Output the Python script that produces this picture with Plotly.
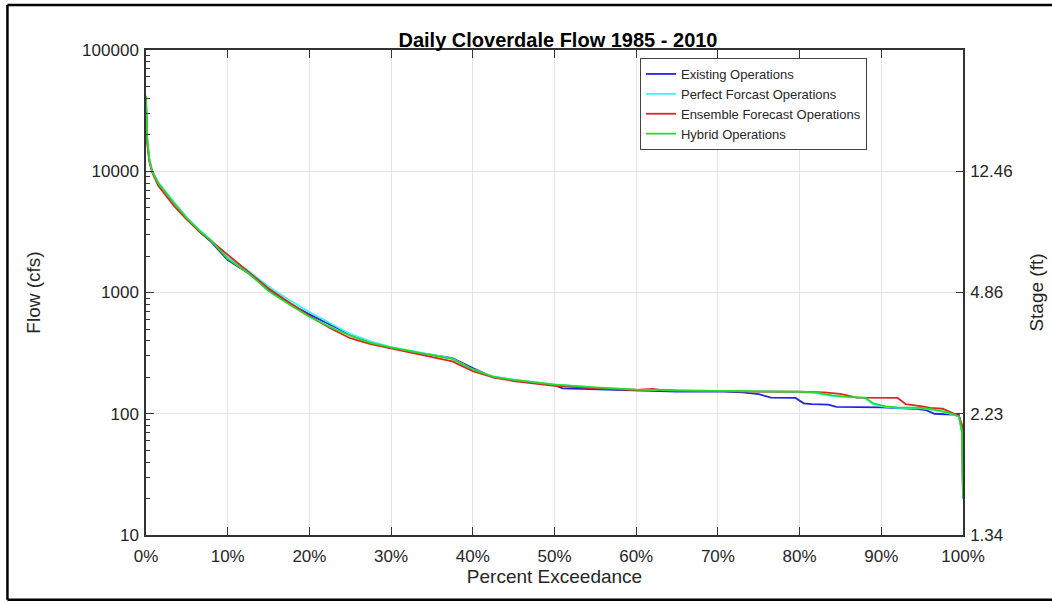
import plotly.graph_objects as go

# ---- data (percent exceedance, flow cfs) ----
existing_x = [0, 0.15, 0.4, 0.75, 1.5, 2.5, 3.5, 5, 6.5, 8,
              10, 12.5, 15, 17.5, 20, 22.5, 25, 27.5, 30, 32.5,
              35, 37.5, 40, 42.5, 45, 47.5, 50, 51, 54, 55,
              58, 60, 63, 65, 70, 73, 75, 76.5, 79.5, 80.5,
              81.5, 83.5, 84.5, 90, 94, 95.5, 96.5, 99.5, 99.9, 100]
existing_y = [38000, 18000, 12500, 10000, 8000, 6500, 5400, 4100, 3200, 2600,
              1850, 1450, 1060, 820, 660, 545, 450, 385, 350, 325,
              305, 288, 238, 200, 190, 182, 172, 162, 160, 158,
              157, 156, 155, 152, 153, 150, 145, 136, 135, 122,
              120, 119, 114, 113, 110, 107, 100, 98, 70, 20]

perfect_x = [0, 0.15, 0.4, 0.75, 1.5, 2.5, 3.5, 5, 6.5, 8,
             10, 12.5, 15, 17.5, 20, 22.5, 25, 27.5, 30, 32.5,
             35, 37.5, 40, 42.5, 45, 47.5, 50, 55, 60, 65,
             70, 75, 78, 80, 82, 84, 86, 88, 89, 90.5,
             92, 95, 96.5, 98, 99.5, 99.9, 100]
perfect_y = [36000, 18500, 12500, 10000, 8100, 6600, 5500, 4150, 3300, 2700,
             1950, 1520, 1120, 870, 690, 560, 455, 395, 355, 330,
             305, 285, 232, 203, 191, 183, 175, 164, 158, 156,
             155, 153, 152, 151, 148, 140, 137, 135, 120, 114,
             112, 111, 107, 102, 95, 70, 20]

ensemble_x = [0, 0.15, 0.4, 0.75, 1.5, 2.5, 3.5, 5, 6.5, 8,
              10, 12.5, 15, 17.5, 20, 22.5, 25, 27.5, 30, 32.5,
              35, 37.5, 40, 42.5, 45, 47.5, 50, 55, 60, 62,
              63, 65, 70, 75, 80, 83, 85, 87, 92, 93,
              95, 96, 97.5, 98.5, 99.5, 99.9, 100]
ensemble_y = [35000, 17000, 12000, 9800, 7600, 6200, 5100, 4000, 3200, 2650,
              2050, 1500, 1080, 830, 640, 510, 420, 375, 345, 320,
              295, 270, 225, 200, 186, 178, 170, 162, 157, 160,
              157, 155, 153, 152, 152, 150, 146, 136, 135, 120,
              115, 112, 110, 103, 96, 80, 20]

hybrid_x = [0, 0.15, 0.4, 0.75, 1.5, 2.5, 3.5, 5, 6.5, 8,
            10, 12.5, 15, 17.5, 20, 22.5, 25, 27.5, 30, 32.5,
            35, 37.5, 40, 42.5, 45, 47.5, 50, 55, 60, 65,
            70, 75, 78, 80, 82, 84, 86, 88, 89, 90.5,
            92, 95, 96.5, 98, 99.5, 99.9, 100]
hybrid_y = [42000, 19000, 12500, 10000, 8000, 6500, 5400, 4100, 3250, 2650,
            1900, 1450, 1030, 800, 630, 520, 440, 385, 352, 327,
            303, 283, 232, 202, 190, 182, 174, 165, 158, 156,
            155, 153, 153, 152, 150, 142, 138, 136, 122, 115,
            113, 112, 108, 103, 95, 70, 20]

x_ticks = [0, 10, 20, 30, 40, 50, 60, 70, 80, 90, 100]
x_tick_labels = ["0%", "10%", "20%", "30%", "40%", "50%", "60%", "70%", "80%", "90%", "100%"]
flow_ticks = [10, 100, 1000, 10000, 100000]
flow_tick_labels = ["10", "100", "1000", "10000", "100000"]
stage_ticks = [10, 100, 1000, 10000]
stage_tick_labels = ["1.34", "2.23", "4.86", "12.46"]

FONT = "Liberation Sans, Arial, sans-serif"
AX = "#333333"

fig = go.Figure()
series = [
    ("Existing Operations", existing_x, existing_y, "#2424e0"),
    ("Perfect Forcast Operations", perfect_x, perfect_y, "#3cf5f5"),
    ("Ensemble Forecast Operations", ensemble_x, ensemble_y, "#e02424"),
    ("Hybrid Operations", hybrid_x, hybrid_y, "#24e024"),
]
for name, xs, ys, col in series:
    fig.add_trace(go.Scatter(x=xs, y=ys, mode="lines", name=name,
                             line=dict(color=col, width=1.8)))

# carrier trace so the right-hand stage axis is drawn
fig.add_trace(go.Scatter(x=existing_x, y=existing_y, yaxis="y2", mode="lines",
                         line=dict(width=0, color="rgba(0,0,0,0)"),
                         showlegend=False, hoverinfo="skip"))

fig.update_layout(
    width=1052, height=602,
    margin=dict(l=146, r=89, t=50, b=67, autoexpand=False),
    paper_bgcolor="white", plot_bgcolor="white",
    font=dict(family=FONT, color="#262626", size=17),
    title=dict(text="<b>Daily Cloverdale Flow 1985 - 2010</b>", xref="container",
               x=0.5304, xanchor="center", y=0.9336, yanchor="middle",
               font=dict(size=20, color="black")),
    showlegend=True,
    legend=dict(x=0.6046, y=0.9835, xanchor="left", yanchor="top",
                bgcolor="white", bordercolor="#444444", borderwidth=1,
                font=dict(size=13, color="#262626"), itemwidth=30,
                tracegroupgap=0),
    xaxis=dict(range=[0, 100], tickvals=x_ticks, ticktext=x_tick_labels,
               showgrid=True, gridcolor="#e3e3e3", gridwidth=1, automargin=False,
               showline=True, linecolor=AX, linewidth=1.5, mirror="ticks",
               ticks="inside", ticklen=8, tickcolor=AX, ticklabelstandoff=5,
               zeroline=False, tickfont=dict(size=17),
               title=dict(text="Percent Exceedance", font=dict(size=19), standoff=4)),
    yaxis=dict(type="log", range=[1, 5], tickvals=flow_ticks, ticktext=flow_tick_labels,
               showgrid=True, gridcolor="#e3e3e3", gridwidth=1, automargin=False,
               showline=True, linecolor=AX, linewidth=1.5,
               ticks="inside", ticklen=8, tickcolor=AX, ticklabelstandoff=2,
               minor=dict(ticks="inside", ticklen=4, tickcolor=AX, showgrid=False,
                          dtick="D1"),
               zeroline=False, tickfont=dict(size=17),
               title=dict(text="Flow (cfs)", font=dict(size=19), standoff=36)),
    yaxis2=dict(type="log", range=[1, 5], overlaying="y", side="right",
                tickvals=stage_ticks, ticktext=stage_tick_labels, automargin=False,
                showgrid=False, showline=True, linecolor=AX, linewidth=1.5,
                ticks="inside", ticklen=7, tickcolor=AX, zeroline=False,
                ticklabelstandoff=2, tickfont=dict(size=17),
                title=dict(text="Stage (ft)", font=dict(size=19), standoff=18)),
)

# outer frame (top, left, bottom) around the figure
frame = dict(color="black", width=2.5)
fig.add_shape(type="line", xref="paper", yref="paper", x0=-0.1696, x1=1.12,
              y0=1.0928, y1=1.0928, line=frame, layer="above")
fig.add_shape(type="line", xref="paper", yref="paper", x0=-0.1696, x1=-0.1696,
              y0=-0.1337, y1=1.0928, line=frame, layer="above")
fig.add_shape(type="line", xref="paper", yref="paper", x0=-0.1696, x1=1.12,
              y0=-0.1337, y1=-0.1337, line=frame, layer="above")

fig.write_html("out.html", config={"displayModeBar": False},
               post_script="document.body.style.margin='0';")
